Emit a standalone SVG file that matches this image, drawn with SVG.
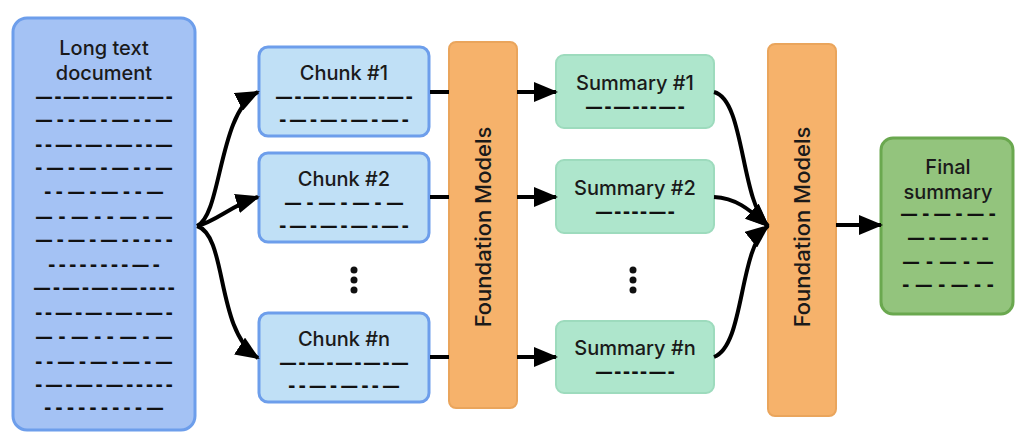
<svg xmlns="http://www.w3.org/2000/svg" width="1024" height="439" viewBox="0 0 1024 439">
<defs>
<marker id="ah" markerUnits="userSpaceOnUse" markerWidth="24" markerHeight="20" refX="22" refY="10" orient="auto">
<path d="M0,0 L24,10 L0,20 Z" fill="#000"/>
</marker>
<style>
.t{font-family:Inter,"Noto Sans",sans-serif;font-weight:500;fill:#1a1a1a;text-anchor:middle}
.ti{font-size:20px}
.d{font-family:"DejaVu Sans",sans-serif;font-weight:bold;font-size:18px;fill:#111;text-anchor:middle}
.doc{fill:#a4c2f4;stroke:#6d9eeb;stroke-width:3}
.chunk{fill:#c0e0f6;stroke:#6d9eeb;stroke-width:3}
.fm{fill:#f6b26b;stroke:#eaa55c;stroke-width:2}
.sum{fill:#aee6cc;stroke:#9ddbbd;stroke-width:2}
.fin{fill:#93c47d;stroke:#6aa84f;stroke-width:3}
.c{fill:none;stroke:#000;stroke-width:4}
</style>
</defs>
<rect width="1024" height="439" fill="#fff"/>

<g id="doc">
<rect class="doc" x="13" y="18" width="182" height="412" rx="14"/>
<text class="t ti" x="104" y="55">Long text</text>
<text class="t ti" x="104" y="80">document</text>
<text class="d" x="104" y="103" textLength="138" lengthAdjust="spacing">—-—-—-—-—-</text>
<text class="d" x="104" y="126" textLength="138" lengthAdjust="spacing">—--—-—--—</text>
<text class="d" x="104" y="151" textLength="138" lengthAdjust="spacing">--—-—-—--—</text>
<text class="d" x="104" y="174" textLength="138" lengthAdjust="spacing">-—-—-—--—</text>
<text class="d" x="104" y="198" textLength="120" lengthAdjust="spacing">--—-—--—</text>
<text class="d" x="104" y="223" textLength="138" lengthAdjust="spacing">—-—--—-—</text>
<text class="d" x="104" y="246" textLength="138" lengthAdjust="spacing">—-—-—-----</text>
<text class="d" x="104" y="271" textLength="112" lengthAdjust="spacing">--------—-</text>
<text class="d" x="104" y="294" textLength="142" lengthAdjust="spacing">—-—-—-—----</text>
<text class="d" x="104" y="319" textLength="138" lengthAdjust="spacing">--—-—-—-—-</text>
<text class="d" x="104" y="343" textLength="138" lengthAdjust="spacing">—-—--—-—</text>
<text class="d" x="104" y="368" textLength="138" lengthAdjust="spacing">--—-—-—-—</text>
<text class="d" x="104" y="391" textLength="138" lengthAdjust="spacing">-—-—-—-----</text>
<text class="d" x="104" y="414" textLength="120" lengthAdjust="spacing">---------—</text>
</g>

<g id="chunk1">
<rect class="chunk" x="259" y="47" width="170" height="89" rx="9"/>
<text class="t ti" x="344" y="80">Chunk #1</text>
<text class="d" x="344" y="103" textLength="138" lengthAdjust="spacing">—-—-—-—-—-</text>
<text class="d" x="344" y="126" textLength="130" lengthAdjust="spacing">-—-—-—-—-</text>
</g>
<g id="chunk2">
<rect class="chunk" x="259" y="153" width="170" height="89" rx="9"/>
<text class="t ti" x="344" y="186">Chunk #2</text>
<text class="d" x="344" y="209" textLength="120" lengthAdjust="spacing">—-—-—-—</text>
<text class="d" x="344" y="232" textLength="130" lengthAdjust="spacing">-—-—-—-—-</text>
</g>
<g id="chunkdots">
<circle cx="354" cy="270" r="3.5" fill="#111"/>
<circle cx="354" cy="280" r="3.5" fill="#111"/>
<circle cx="354" cy="290" r="3.5" fill="#111"/>
</g>
<g id="chunkn">
<rect class="chunk" x="259" y="313" width="170" height="89" rx="9"/>
<text class="t ti" x="344" y="346">Chunk #n</text>
<text class="d" x="344" y="369" textLength="130" lengthAdjust="spacing">—-—-—-—-—</text>
<text class="d" x="344" y="392" textLength="112" lengthAdjust="spacing">--—-—--—</text>
</g>

<g id="fm1">
<rect class="fm" x="449" y="42" width="68" height="366" rx="7"/>
<text class="t" style="font-size:22px" transform="translate(491,227) rotate(-90)">Foundation Models</text>
</g>

<g id="sum1">
<rect class="sum" x="556" y="55" width="158" height="73" rx="8"/>
<text class="t ti" x="635" y="90">Summary #1</text>
<text class="d" x="635" y="113" textLength="100" lengthAdjust="spacing">—-—---—-</text>
</g>
<g id="sum2">
<rect class="sum" x="556" y="160" width="158" height="73" rx="8"/>
<text class="t ti" x="635" y="195">Summary #2</text>
<text class="d" x="635" y="218" textLength="80" lengthAdjust="spacing">—----—-</text>
</g>
<g id="sumdots">
<circle cx="633" cy="270" r="3.5" fill="#111"/>
<circle cx="633" cy="280" r="3.5" fill="#111"/>
<circle cx="633" cy="290" r="3.5" fill="#111"/>
</g>
<g id="sumn">
<rect class="sum" x="556" y="321" width="158" height="72" rx="8"/>
<text class="t ti" x="635" y="355">Summary #n</text>
<text class="d" x="635" y="378" textLength="80" lengthAdjust="spacing">—----—-</text>
</g>

<g id="fm2">
<rect class="fm" x="768" y="44" width="68" height="372" rx="7"/>
<text class="t" style="font-size:22px" transform="translate(810,227) rotate(-90)">Foundation Models</text>
</g>

<g id="final">
<rect class="fin" x="881" y="138" width="132" height="176" rx="12"/>
<text class="t ti" x="948" y="174">Final</text>
<text class="t ti" x="948" y="199">summary</text>
<text class="d" x="948" y="220" textLength="96" lengthAdjust="spacing">—-—-—-</text>
<text class="d" x="948" y="244" textLength="82" lengthAdjust="spacing">—-—---</text>
<text class="d" x="948" y="268" textLength="92" lengthAdjust="spacing">—-—-—</text>
<text class="d" x="948" y="291" textLength="92" lengthAdjust="spacing">-—-—--</text>
</g>

<g id="connectors">
<path class="c" d="M197,226 C222,215 218,112 258,92" marker-end="url(#ah)"/>
<path class="c" d="M197,226 C215,222 232,205 258,197" marker-end="url(#ah)"/>
<path class="c" d="M197,226 C228,236 215,330 258,358" marker-end="url(#ah)"/>
<path class="c" d="M430,92 L449,92"/>
<path class="c" d="M430,197 L449,197"/>
<path class="c" d="M430,357 L449,357"/>
<path class="c" d="M517,92 L556,92" marker-end="url(#ah)"/>
<path class="c" d="M517,197 L556,197" marker-end="url(#ah)"/>
<path class="c" d="M517,357 L556,357" marker-end="url(#ah)"/>
<path class="c" d="M714,92 C745,100 740,200 768,226" marker-end="url(#ah)"/>
<path class="c" d="M714,197 C735,198 748,208 768,226" marker-end="url(#ah)"/>
<path class="c" d="M714,357 C745,345 738,250 768,226" marker-end="url(#ah)"/>
<path class="c" d="M836,225 L881,225" marker-end="url(#ah)"/>
</g>
</svg>
